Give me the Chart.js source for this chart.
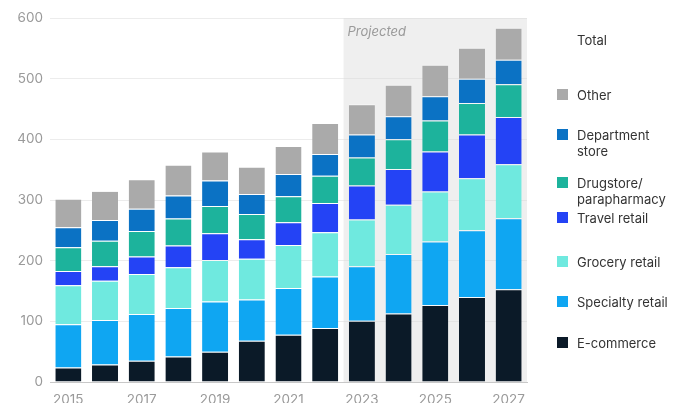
<!DOCTYPE html>
<html>
<head>
<meta charset="utf-8">
<script src="https://cdn.jsdelivr.net/npm/chart.js@4"></script>
<style>
	body { margin: 0; background: #fff; }
	#wrap { position: relative; width: 674px; height: 403px; font-family: Inter, 'Liberation Sans', sans-serif; }
	#legend { position: absolute; left: 0; top: 0; }
	.lg { position: absolute; font-size: 13px; line-height: 16px; color: #333; white-space: nowrap; }
	.sw { position: absolute; width: 11px; height: 11px; }
</style>
</head>
<body>
<div id="wrap">
	<canvas id="chart" width="674" height="403"></canvas>
	<div id="legend"></div>
</div>
<script>
var years = ['2015', '2016', '2017', '2018', '2019', '2020', '2021', '2022', '2023', '2024', '2025', '2026', '2027'];
var ecommerce  = [24, 29, 35, 42, 50, 68, 78, 89, 101, 113, 127, 140, 153];
var specialty  = [71, 73, 77, 80, 82.5, 68, 77, 85, 90, 98, 104.5, 110, 117];
var grocery    = [64.5, 65, 66, 67, 68.5, 67, 71, 73, 77, 81, 82.5, 86, 89];
var travel     = [23.5, 24, 29, 36, 44, 32.5, 37.5, 48, 56, 59, 66, 72, 78];
var drugstore  = [39, 42, 42, 44.5, 45, 41.5, 42.5, 45, 46, 49, 51, 52, 54];
var department = [33, 34, 36.5, 38, 42, 33, 37, 36, 38, 38, 40, 40, 40];
var other      = [47, 48, 48.5, 50.5, 48, 45, 46, 51, 50, 52, 52, 51, 53];
var yTicks = [0, 100, 200, 300, 400, 500, 600];

var seriesNames = ['E-commerce', 'Specialty retail', 'Grocery retail', 'Travel retail', 'Drugstore/parapharmacy', 'Department store', 'Other'];
var seriesData = [ecommerce, specialty, grocery, travel, drugstore, department, other];
var seriesColors = ['#0b1a28', '#0fa6f2', '#6fe9df', '#2443f5', '#1db39c', '#0b72c4', '#aaaaaa'];

var projectedFrom = 8; // index of 2023

var projectedBox = {
	id: 'projectedBox',
	beforeDatasetsDraw: function (chart) {
		var ctx = chart.ctx;
		var x = chart.scales.x, y = chart.scales.y;
		var left = x.getPixelForValue(projectedFrom - 0.5);
		var right = chart.chartArea.right;
		var top = y.getPixelForValue(600);
		var bottom = y.getPixelForValue(0);
		ctx.save();
		ctx.fillStyle = 'rgba(220,220,220,0.45)';
		ctx.fillRect(left, top, right - left, bottom - top);
		ctx.fillStyle = '#9a9a9a';
		ctx.font = 'italic 13px Inter, "Liberation Sans", sans-serif';
		ctx.textBaseline = 'middle';
		ctx.fillText('Projected', left + 4, top + 14);
		ctx.restore();
	}
};

var datasets = [];
for (var i = 0; i < seriesNames.length; i++) {
	datasets.push({
		label: seriesNames[i],
		data: seriesData[i],
		backgroundColor: seriesColors[i],
		borderColor: 'rgba(255,255,255,0.55)',
		borderWidth: {top: 1, bottom: 0, left: 0, right: 0},
		borderSkipped: false,
		categoryPercentage: 1,
		barPercentage: 0.71
	});
}

new Chart(document.getElementById('chart'), {
	type: 'bar',
	data: { labels: years, datasets: datasets },
	options: {
		responsive: false,
		animation: false,
		layout: { padding: { top: 18, right: 147, left: 0, bottom: 0 } },
		plugins: { legend: { display: false }, tooltip: { enabled: false } },
		scales: {
			x: {
				stacked: true,
				grid: { display: false },
				border: { color: '#c8c8c8' },
				ticks: {
					color: '#9a9a9a',
					font: { size: 13.5, family: 'Inter, "Liberation Sans", sans-serif' },
					maxRotation: 0,
					autoSkip: false,
					padding: 2,
					callback: function (v, i) { return i % 2 == 0 ? years[i] : ''; }
				},
				afterFit: function (s) { s.height = 21; }
			},
			y: {
				stacked: true,
				min: 0,
				max: 600,
				afterBuildTicks: function (s) { s.ticks = yTicks.map(function (v) { return {value: v}; }); },
				grid: { color: '#ececec', drawTicks: false },
				border: { display: false },
				ticks: {
					color: '#9a9a9a',
					padding: 7,
					font: { size: 13.5, family: 'Inter, "Liberation Sans", sans-serif' }
				},
				afterFit: function (s) { s.width = 50; }
			}
		}
	},
	plugins: [projectedBox]
});

// legend on the right
var legendItems = [
	{ name: 'Other', idx: 6, y: 95 },
	{ name: 'Department<br>store', idx: 5, y: 135 },
	{ name: 'Drugstore/<br>parapharmacy', idx: 4, y: 183 },
	{ name: 'Travel retail', idx: 3, y: 218 },
	{ name: 'Grocery retail', idx: 2, y: 262 },
	{ name: 'Specialty retail', idx: 1, y: 302 },
	{ name: 'E-commerce', idx: 0, y: 343 }
];
var lg = document.getElementById('legend');
var t = document.createElement('div');
t.className = 'lg';
t.style.left = '577px';
t.style.top = (40 - 8) + 'px';
t.innerHTML = 'Total';
lg.appendChild(t);
legendItems.forEach(function (it) {
	var sw = document.createElement('div');
	sw.className = 'sw';
	sw.style.left = '557px';
	sw.style.top = (it.y - 6) + 'px';
	sw.style.background = seriesColors[it.idx];
	lg.appendChild(sw);
	var tx = document.createElement('div');
	tx.className = 'lg';
	tx.style.left = '577px';
	tx.style.top = (it.y - 8) + 'px';
	tx.innerHTML = it.name;
	lg.appendChild(tx);
});
</script>
</body>
</html>
